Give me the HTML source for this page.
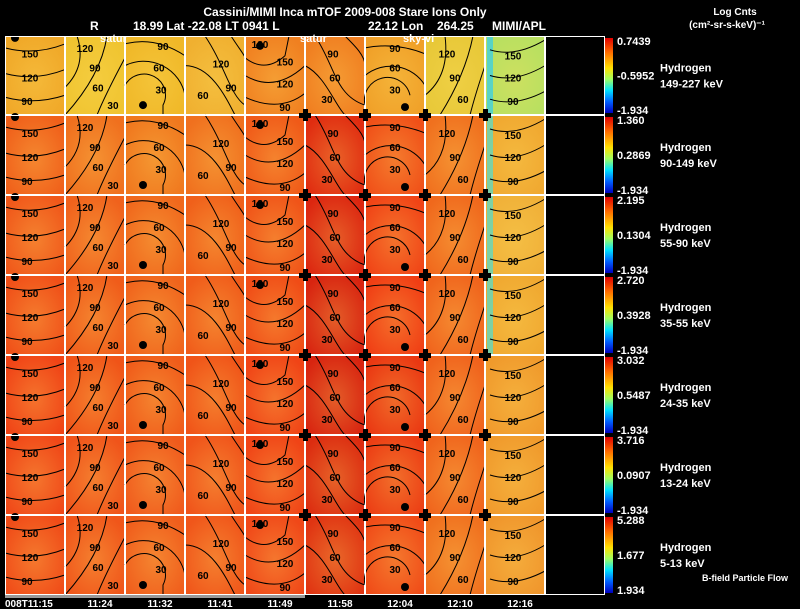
<!DOCTYPE html>
<html><head><meta charset="utf-8"><style>
html,body{margin:0;padding:0;background:#000;}
svg{display:block;font-family:"Liberation Sans",sans-serif;font-weight:bold;}
</style></head><body>
<svg id="c" width="800" height="609" viewBox="0 0 800 609"></svg>
<script>
const channels=["149-227 keV","90-149 keV","55-90 keV","35-55 keV","24-35 keV","13-24 keV","5-13 keV"];
const cbMax=["0.7439","1.360","2.195","2.720","3.032","3.716","5.288"];
const cbMid=["-0.5952","0.2869","0.1304","0.3928","0.5487","0.0907","1.677"];
const cbMin=["-1.934","-1.934","-1.934","-1.934","-1.934","-1.934","1.934"];
const times=["008T11:15","11:24","11:32","11:41","11:49","11:58","12:04","12:10","12:16"];
const rowColors=[
 ["#f0a828","#f0c430","#f0b828","#f0b030","#f08020","#f07e20","#f0a028","#e8c838","#b8e060"],
 ["#f0601a","#f0701e","#f0781e","#f0701e","#f05a18","#e02c10","#f05018","#f0701e","#f0a830"],
 ["#f0581a","#f0621c","#f0681c","#f0601a","#f05418","#dc2610","#f04416","#f0681c","#f0b038"],
 ["#f05018","#f05c1a","#f0641c","#f05c1a","#f04c16","#d82410","#f03e14","#f0641c","#f0a830"],
 ["#f04416","#f05418","#f05c1a","#f05418","#f04416","#d82410","#ea3812","#f0621c","#f09a2c"],
 ["#f04818","#f0541a","#f05a1c","#f0541a","#f04416","#dc2c10","#ec3e14","#f0641c","#f09a2c"],
 ["#f04c18","#f0561a","#f05e1c","#f0561a","#f04818","#e03412","#f04c18","#f0701e","#f0962c"]];
const colX=[5,65,125,185,245,305,365,425,485,545];
const rowY=[36,115,195,275,355,435,515,595];
const contourPaths=[
 ["M0 12 Q30 20 60 8","M0 38 Q30 46 60 34","M0 62 Q30 70 60 60"],
 ["M12 0 Q22 30 0 52","M42 0 Q36 40 0 80","M60 22 Q40 60 32 80"],
 ["M0 50 A20 20 0 0 1 38 70 L38 80","M0 30 A42 42 0 0 1 60 60","M0 8 Q30 0 60 20"],
 ["M20 0 C40 30 45 60 60 70","M0 30 C25 30 40 60 50 80","M46 0 C55 14 60 20 60 22"],
 ["M0 22 Q20 38 40 20 L44 0","M0 40 Q30 58 60 30","M0 62 Q35 78 60 58"],
 ["M10 0 C30 30 30 60 60 70","M0 30 C20 40 30 70 40 80","M40 0 C50 10 60 20 60 30"],
 ["M0 70 A22 22 0 0 1 45 60","M0 40 A40 40 0 0 1 60 50","M0 12 Q30 6 60 18"],
 ["M20 0 Q25 40 0 60","M48 0 Q40 40 15 80","M60 30 Q50 60 45 80"],
 ["M5 14 Q30 22 60 4","M5 40 Q30 48 60 30","M5 64 Q30 72 60 56"]];
const contourLabels=[
 [["150",25,22],["120",25,46],["90",22,70]],
 [["120",20,16],["90",30,36],["60",33,56],["30",48,74]],
 [["90",38,14],["60",34,36],["30",36,58]],
 [["120",36,32],["90",46,56],["60",18,64]],
 [["180",15,12],["150",40,30],["120",40,52],["90",40,76]],
 [["90",28,22],["60",30,46],["30",22,68]],
 [["90",30,16],["60",30,36],["30",30,58]],
 [["120",22,22],["90",30,46],["60",38,68]],
 [["150",28,24],["120",28,46],["90",28,70]]];
const dots=[[10,2],null,[18,70],null,[15,10],null,[40,72],null,null];
const svg=document.getElementById('c');
const NS="http://www.w3.org/2000/svg";
function mk(t,a,p){const e=document.createElementNS(NS,t);for(const k in a)e.setAttribute(k,a[k]);(p||svg).appendChild(e);return e;}
function txt(s,x,y,a,p){const e=mk('text',Object.assign({x:x,y:y,fill:'#fff','font-size':11},a||{}),p);e.textContent=s;return e;}
const defs=mk('defs',{});
const cg=mk('linearGradient',{id:'cbg',x1:0,y1:0,x2:0,y2:1},defs);
[["0","#e00000"],["0.2","#ff7000"],["0.4","#ffe000"],["0.55","#a0ff60"],["0.7","#00e0ff"],["0.85","#0060ff"],["1","#0000c0"]].forEach(s=>mk('stop',{offset:s[0],'stop-color':s[1]},cg));
const rg=mk('radialGradient',{id:'hl',cx:0.5,cy:0.55,r:0.6},defs);
mk('stop',{offset:0,'stop-color':'#ffe060','stop-opacity':0.3},rg);
mk('stop',{offset:1,'stop-color':'#ffe060','stop-opacity':0},rg);
for(let r=0;r<7;r++){
 const y0=rowY[r],h=rowY[r+1]-y0;
 for(let c=0;c<9;c++){
  const x0=colX[c],w=colX[c+1]-x0;
  const g=mk('g',{transform:`translate(${x0},${y0}) scale(${w/60},${h/80})`});
  
  
  mk('rect',{x:0,y:0,width:60,height:80,fill:rowColors[r][c]},g);
  mk('rect',{x:0,y:0,width:60,height:80,fill:'url(#hl)'},g);
  if(c===8&&r<4){mk('rect',{x:2,y:0,width:6,height:80,fill:r===0?'#40d0e0':'#60d8c0',opacity:0.8},g);}
  contourPaths[c].forEach(d=>mk('path',{d:d,fill:'none',stroke:'#000','stroke-width':1},g));
  contourLabels[c].forEach(l=>txt(l[0],l[1],l[2],{fill:'#000','font-size':10,'text-anchor':'middle'},g));
  if(dots[c]){mk('circle',{cx:dots[c][0],cy:dots[c][1],r:4,fill:'#000'},g);}
  mk('rect',{x:x0+0.5,y:y0+0.5,width:w-1,height:h-1,fill:'none',stroke:'#fff','stroke-width':1});
 }
 mk('rect',{x:545.5,y:y0+0.5,width:59,height:h-1,fill:'none',stroke:'#fff','stroke-width':1});
 const cb=mk('rect',{x:605,y:y0+2,width:8,height:h-4,fill:'url(#cbg)'});
 
 
 txt(cbMax[r],617,y0+9);
 txt(cbMid[r],617,y0+h/2+4);
 txt(cbMin[r],617,y0+h-1);
 const l1=txt('Hydrogen',660,y0+h/2-4);
 
 
 const l2=txt(channels[r],660,y0+h/2+12);
 
 
}
for(let r=1;r<7;r++)for(let c=5;c<9;c++){
 const x=colX[c],y=rowY[r];
 mk('rect',{x:x-6,y:y-2,width:12,height:5,fill:'#000'});
 mk('rect',{x:x-2,y:y-6,width:5,height:12,fill:'#000'});
}
mk('rect',{x:5,y:595,width:300,height:3,fill:'#999'});
times.forEach((t,i)=>{const e=txt(t,i===0?5:colX[i]+35,607,{'font-size':10,'text-anchor':i===0?'start':'middle'});
 });
const title=txt('Cassini/MIMI Inca mTOF  2009-008   Stare   Ions Only',345,16,{'font-size':12,'text-anchor':'middle'});

txt('R',90,30,{'font-size':12});
txt('18.99 Lat -22.08 LT 0941 L',133,30,{'font-size':12});
txt('22.12 Lon',368,30,{'font-size':12});
txt('264.25',437,30,{'font-size':12});
txt('MIMI/APL',492,30,{'font-size':12});
const u1=txt('Log Cnts',735,15,{'font-size':10,'text-anchor':'middle'});

txt('(cm²-sr-s-keV)⁻¹',727,28,{'font-size':10,'text-anchor':'middle'});
txt('satur',100,42,{'font-size':11});
txt('satur',300,42,{'font-size':11});
txt('sky-vi',403,42,{'font-size':11});
const bf=txt('B-field Particle Flow',745,581,{'font-size':9,'text-anchor':'middle'});

</script>
</body></html>
